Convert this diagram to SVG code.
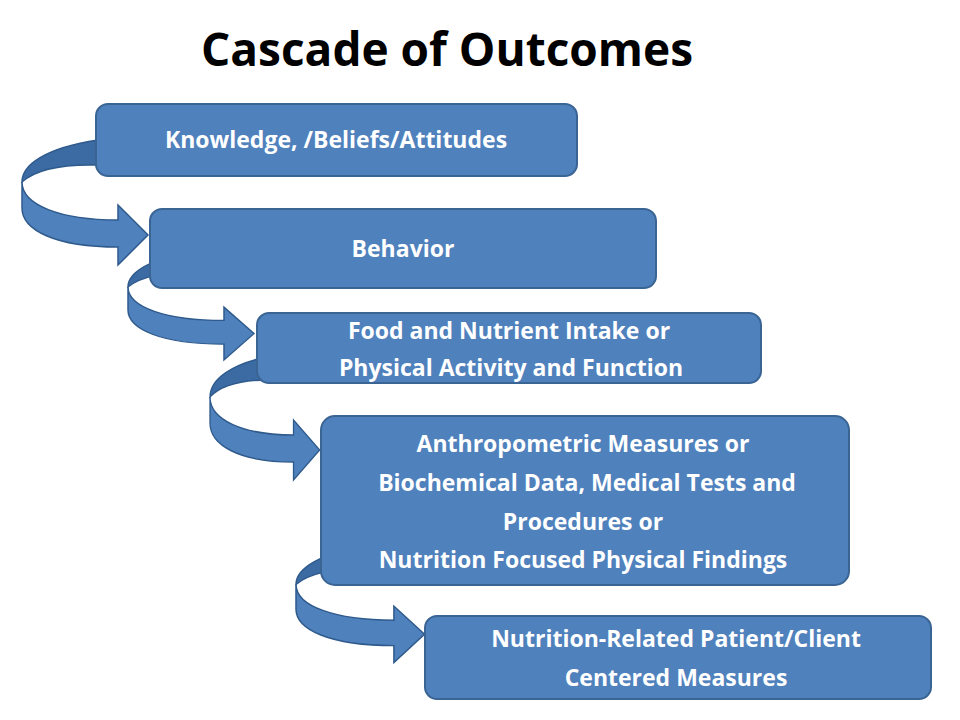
<svg xmlns="http://www.w3.org/2000/svg" width="960" height="720" viewBox="0 0 960 720">
<style>
.b{fill:#4f81bd;stroke:#3a6494;stroke-width:2}
.t{fill:#fff;font-family:"Open Sans","Liberation Sans",sans-serif;font-weight:bold;font-size:23px;text-anchor:middle}
.dk{fill:#3c6aa3;stroke:#2f5a8c;stroke-width:1.5}
.lt{fill:#4f81bd;stroke:#2f5a8c;stroke-width:1.5}
</style>
<defs>
<g id="arr">
<path class="dk" d="M76,0 C23,8 0,25 0,42 C13,30 38,24 76,25 Z"/>
<path class="lt" d="M0,42 C0,65 38,80 96,80 L96,65 L126,95 L96,125 L96,107 C33,107 0,90 0,68 Z"/>
</g>
</defs>
<rect width="960" height="720" fill="#fff"/>
<text x="447" y="66" font-family="'Open Sans','Liberation Sans',sans-serif" font-weight="bold" font-size="46" text-anchor="middle">Cascade of Outcomes</text>
<g id="connectors">
<use href="#arr" transform="translate(22,140)"/>
<use href="#arr" transform="translate(128,250) scale(1.0,0.88)"/>
<use href="#arr" transform="translate(210,355) scale(0.87,1.0)"/>
<use href="#arr" transform="translate(296,545) scale(1.02,0.94)"/>
</g>
<g id="n1"><rect class="b" x="96" y="104" width="481" height="72" rx="12"/><text class="t" x="336" y="148">Knowledge, /Beliefs/Attitudes</text></g>
<g id="n2"><rect class="b" x="150" y="209" width="506" height="79" rx="12"/><text class="t" x="403" y="257">Behavior</text></g>
<g id="n3"><rect class="b" x="257" y="313" width="504" height="70" rx="12"/><text class="t" x="509" y="339">Food and Nutrient Intake or</text><text class="t" x="511" y="376">Physical Activity and Function</text></g>
<g id="n4"><rect class="b" x="321" y="416" width="528" height="169" rx="14"/><text class="t" x="583" y="452">Anthropometric Measures or</text><text class="t" x="587" y="491">Biochemical Data, Medical Tests and</text><text class="t" x="583" y="530">Procedures or</text><text class="t" x="583" y="568">Nutrition Focused Physical Findings</text></g>
<g id="n5"><rect class="b" x="425" y="616" width="506" height="83" rx="12"/><text class="t" x="676" y="647">Nutrition-Related Patient/Client</text><text class="t" x="676" y="686">Centered Measures</text></g>
</svg>
